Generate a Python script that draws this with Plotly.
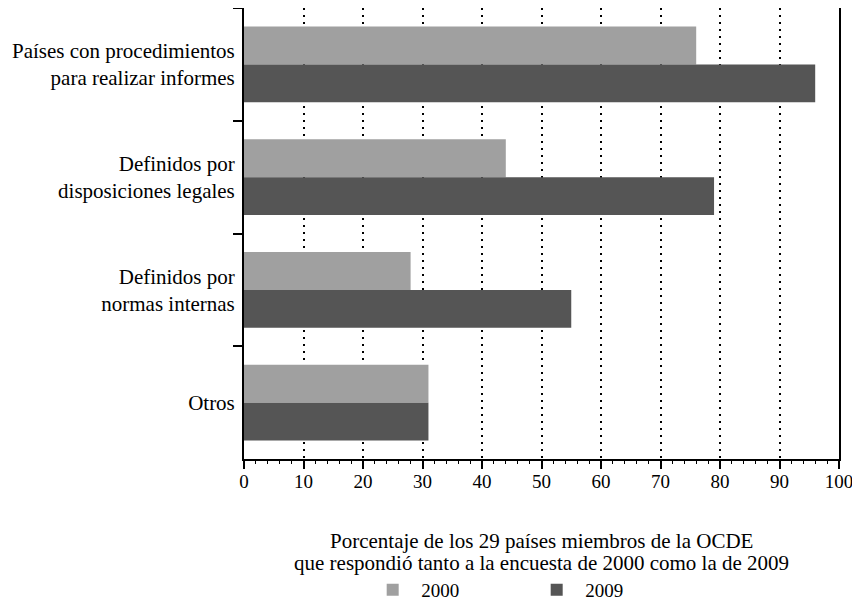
import plotly.graph_objects as go

categories = ["Países con procedimientos<br>para realizar informes",
              "Definidos por<br>disposiciones legales",
              "Definidos por<br>normas internas",
              "Otros"]
values_2000 = [76, 44, 28, 31]
values_2009 = [96, 79, 55, 31]
series_names = ["2000", "2009"]
x_ticks = [0, 10, 20, 30, 40, 50, 60, 70, 80, 90, 100]
x_title_lines = ["Porcentaje de los 29 países miembros de la OCDE",
                 "que respondió tanto a la encuesta de 2000 como la de 2009"]

FONT = "Liberation Serif"

fig = go.Figure()
fig.add_trace(go.Bar(y=categories, x=values_2000, name=series_names[0], orientation="h",
                     marker=dict(color="#a0a0a0", line=dict(width=0))))
fig.add_trace(go.Bar(y=categories, x=values_2009, name=series_names[1], orientation="h",
                     marker=dict(color="#555555", line=dict(width=0))))

fig.update_layout(
    width=852, height=595,
    margin=dict(l=236, r=21, t=0, b=144, autoexpand=False),
    paper_bgcolor="white", plot_bgcolor="white",
    barmode="group", bargap=0.33, bargroupgap=0,
    font=dict(family=FONT, size=20, color="black"),
    showlegend=True,
    legend=dict(orientation="h", x=0.202, xanchor="left", xref="paper",
                y=0.022, yanchor="middle", yref="container",
                font=dict(family=FONT, size=19, color="black"),
                itemwidth=47, entrywidth=102, entrywidthmode="pixels",
                bgcolor="rgba(0,0,0,0)"),
)
# x-axis title, one annotation per line so the line spacing matches
for i, (line, shift) in enumerate(zip(x_title_lines, [-82, -104])):
    fig.add_annotation(text=line, xref="paper", yref="paper", x=0.5, y=0,
                       xanchor="center", yanchor="middle", yshift=shift,
                       showarrow=False, font=dict(family=FONT, size=21, color="black"))

fig.update_xaxes(
    range=[0, 100], tickvals=x_ticks, ticktext=[str(t) for t in x_ticks],
    showline=True, linecolor="black", linewidth=2, mirror=True,
    ticks="outside", ticklen=8, tickwidth=1.5, tickcolor="black",
    minor=dict(ticks="outside", ticklen=3, dtick=2, tickcolor="black", tickwidth=1, showgrid=False),
    showgrid=True, gridcolor="black", gridwidth=1.5, griddash="2px,5px",
    zeroline=False, automargin=False, ticklabelstandoff=-4,
    tickfont=dict(family=FONT, size=19, color="black"),
)
fig.update_yaxes(
    autorange="reversed", tickson="boundaries",
    showline=True, linecolor="black", linewidth=2, mirror=True,
    ticks="outside", ticklen=9, tickwidth=1.5, tickcolor="black",
    showgrid=False, zeroline=False, automargin=False,
    ticklabelstandoff=3,
    tickfont=dict(family=FONT, size=21, color="black"),
)

fig.write_html("out.html")
